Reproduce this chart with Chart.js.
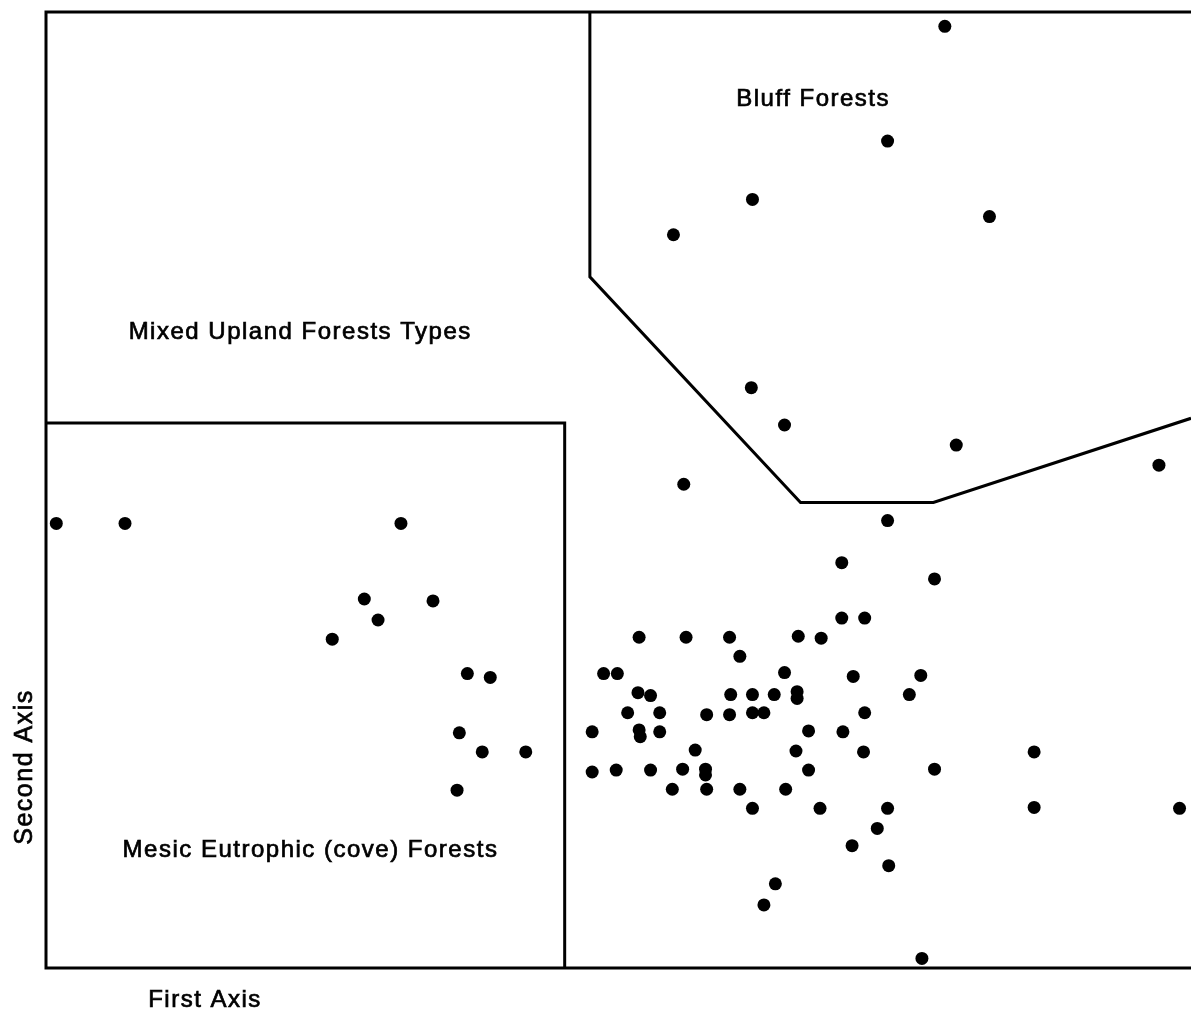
<!DOCTYPE html>
<html>
<head>
<meta charset="utf-8">
<script src="https://cdn.jsdelivr.net/npm/chart.js@4.4.1/dist/chart.umd.min.js"></script>
<style>
  html, body { margin: 0; padding: 0; background: #fff; }
  #wrap { width: 1191px; height: 1012px; }
</style>
</head>
<body>
<div id="wrap"><canvas id="chart"></canvas></div>
<script>
// Ordination scores (0-100 on both axes)
const mesicX = [0.9, 6.9, 31.0, 27.8, 33.8, 29.0, 25.0, 36.8, 38.8, 36.1, 38.1, 41.9, 35.9];
const mesicY = [46.5, 46.5, 46.5, 38.6, 38.4, 36.4, 34.4, 30.8, 30.4, 24.6, 22.6, 22.6, 18.6];

const bluffX = [78.5, 73.5, 61.7, 82.4, 54.8, 61.6, 64.5, 79.5, 97.2];
const bluffY = [98.5, 86.5, 80.4, 78.6, 76.7, 60.7, 56.8, 54.7, 52.6];

const uplandX = [
  55.7, 73.5, 69.5, 77.6, 69.5, 71.5, 51.8, 55.9, 59.7, 65.7, 67.7, 60.6,
  48.7, 49.9, 64.5, 70.5, 76.4, 75.4, 51.7, 52.8, 59.8, 61.7, 63.6, 65.6, 65.6,
  50.8, 53.6, 57.7, 59.7, 61.7, 62.7, 71.5, 47.7, 51.8, 51.9, 53.6, 66.6, 69.6,
  56.7, 65.5, 71.4, 86.3, 47.7, 49.8, 52.8, 55.6, 57.6, 57.6, 66.6, 77.6,
  54.7, 57.7, 60.6, 64.6, 61.7, 67.6, 73.5, 86.3, 99.0, 72.6, 70.4, 73.6,
  63.7, 62.7, 76.5
];
const uplandY = [
  50.6, 46.8, 42.4, 40.7, 36.6, 36.6, 34.6, 34.6, 34.6, 34.7, 34.5, 32.6,
  30.8, 30.8, 30.9, 30.5, 30.6, 28.6, 28.8, 28.5, 28.6, 28.6, 28.6, 28.9, 28.2,
  26.7, 26.7, 26.5, 26.5, 26.7, 26.7, 26.7, 24.7, 24.9, 24.2, 24.7, 24.8, 24.7,
  22.8, 22.7, 22.6, 22.6, 20.5, 20.7, 20.7, 20.8, 20.8, 20.2, 20.7, 20.8,
  18.7, 18.7, 18.7, 18.7, 16.7, 16.7, 16.7, 16.8, 16.7, 14.6, 12.8, 10.7,
  8.8, 6.6, 1.0
];

// Boundaries drawn around the groups
const coveBoxX = [0, 45.3, 45.3];
const coveBoxY = [57.0, 57.0, 0];
const bluffEdgeX = [47.5, 47.5, 65.9, 77.5, 100];
const bluffEdgeY = [100, 72.3, 48.7, 48.7, 57.5];

// Region names and where they sit on the plot
const regionNames = ['Bluff Forests', 'Mixed Upland Forests Types', 'Mesic Eutrophic (cove) Forests'];
const regionNameX = [67.0, 22.2, 23.1];
const regionNameY = [90.9, 66.5, 12.3];

const toPoints = (xs, ys) => xs.map((x, i) => ({ x, y: ys[i] }));

const FONT = '"Liberation Sans", Arial, sans-serif';

// draw text a little heavier, like the hand lettering
function letter(ctx, text, x, y) {
  ctx.fillText(text, x, y);
  ctx.strokeText(text, x, y);
}

// Frame, region names and axis names
const annotate = {
  id: 'annotate',
  afterDraw(chart) {
    const { ctx, chartArea: a, scales } = chart;
    ctx.save();
    ctx.strokeStyle = '#000';
    ctx.lineWidth = 3;
    ctx.beginPath();
    ctx.moveTo(a.right + 2, a.top);
    ctx.lineTo(a.left, a.top);
    ctx.lineTo(a.left, a.bottom);
    ctx.lineTo(a.right + 2, a.bottom);
    ctx.stroke();

    ctx.fillStyle = '#000';
    ctx.lineWidth = 0.7;
    ctx.font = '24px ' + FONT;
    ctx.letterSpacing = '1.5px';
    ctx.textAlign = 'center';
    ctx.textBaseline = 'middle';
    regionNames.forEach((name, i) => {
      letter(ctx, name, scales.x.getPixelForValue(regionNameX[i]), scales.y.getPixelForValue(regionNameY[i]));
    });

    letter(ctx, 'First Axis', 205, 1000);
    ctx.translate(25, 767);
    ctx.rotate(-Math.PI / 2);
    ctx.font = '25px ' + FONT;
    letter(ctx, 'Second Axis', 0, 0);
    ctx.restore();
  }
};

const dots = { pointRadius: 6.5, pointHoverRadius: 6.5, backgroundColor: '#000', borderColor: '#000', borderWidth: 0, showLine: false };
const edge = { showLine: true, pointRadius: 0, borderColor: '#000', borderWidth: 3, fill: false, tension: 0 };

new Chart(document.getElementById('chart'), {
  type: 'scatter',
  data: {
    datasets: [
      { label: 'Mesic', data: toPoints(mesicX, mesicY), ...dots },
      { label: 'Bluff', data: toPoints(bluffX, bluffY), ...dots },
      { label: 'Upland', data: toPoints(uplandX, uplandY), ...dots },
      { label: 'Cove boundary', data: toPoints(coveBoxX, coveBoxY), ...edge },
      { label: 'Bluff boundary', data: toPoints(bluffEdgeX, bluffEdgeY), ...edge }
    ]
  },
  options: {
    responsive: true,
    maintainAspectRatio: false,
    animation: false,
    clip: false,
    layout: { autoPadding: false, padding: { left: 46, top: 12, right: 0, bottom: 44 } },
    plugins: { legend: { display: false }, tooltip: { enabled: false } },
    scales: {
      x: { type: 'linear', min: 0, max: 100, display: false },
      y: { type: 'linear', min: 0, max: 100, display: false }
    }
  },
  plugins: [annotate]
});
</script>
</body>
</html>
